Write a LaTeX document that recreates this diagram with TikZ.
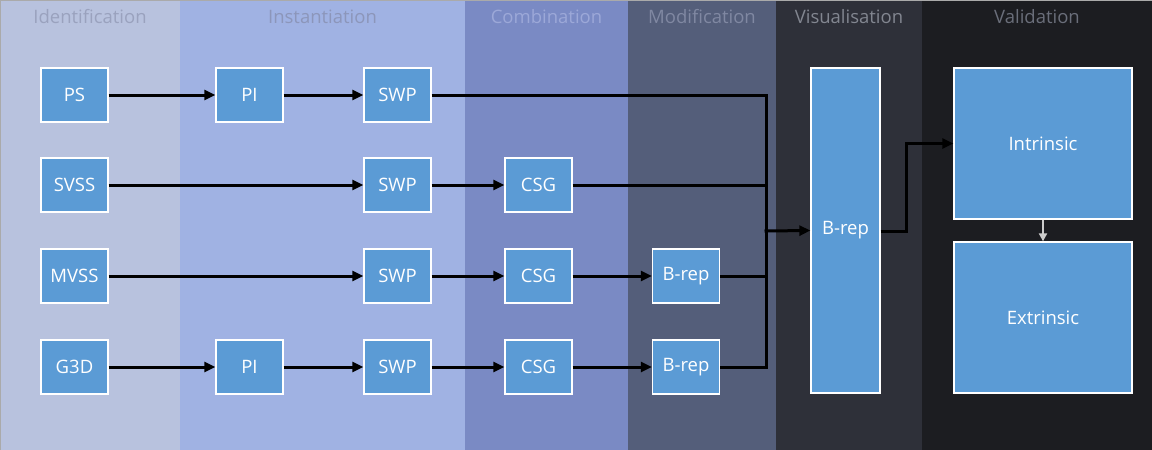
\documentclass[tikz,border=0pt]{standalone}
\usepackage{fontspec}
\setmainfont{Open Sans}
\usetikzlibrary{arrows.meta, positioning, calc}
\definecolor{idcol}{RGB}{184,194,222}
\definecolor{inscol}{RGB}{160,178,227}
\definecolor{combcol}{RGB}{122,138,196}
\definecolor{modcol}{RGB}{84,94,122}
\definecolor{viscol}{RGB}{46,48,57}
\definecolor{valcol}{RGB}{28,29,33}
\definecolor{idtxt}{RGB}{154,162,190}
\definecolor{instxt}{RGB}{140,150,186}
\definecolor{combtxt}{RGB}{156,168,216}
\definecolor{modtxt}{RGB}{128,136,162}
\definecolor{vistxt}{RGB}{130,134,144}
\definecolor{valtxt}{RGB}{106,110,122}
\definecolor{stepblue}{RGB}{91,155,213}
\definecolor{framegrey}{RGB}{170,170,170}

\tikzset{
  stage/.style={draw=white, line width=1.3pt, fill=stepblue, text=white,
    font=\fontsize{18.5}{22}\selectfont, minimum width=67pt, minimum height=54pt,
    inner sep=0pt},
  phase/.style={font=\fontsize{18.5}{22}\selectfont, anchor=center},
  flow/.style={-{Triangle[length=11pt,width=10pt]}, line width=3pt, black},
  link/.style={line width=3pt, black}
}

\begin{document}
\begin{tikzpicture}[x=1pt, y=-1pt]
  \useasboundingbox (0,0) rectangle (1152,450);
  % Phase bands
  \fill[idcol]   (0,0)   rectangle (180,450);
  \fill[inscol]  (180,0) rectangle (465,450);
  \fill[combcol] (465,0) rectangle (628,450);
  \fill[modcol]  (628,0) rectangle (776,450);
  \fill[viscol]  (776,0) rectangle (922,450);
  \fill[valcol]  (922,0) rectangle (1152,450);
  \draw[framegrey, line width=1pt] (0.5,450) -- (0.5,0.5) -- (1152,0.5);
  % Phase titles
  \node[phase, text=idtxt]   (tid)   at (90,17)     {Identification};
  \node[phase, text=instxt]  (tins)  at (322.5,17)  {Instantiation};
  \node[phase, text=combtxt] (tcomb) at (546.5,17)  {Combination};
  \node[phase, text=modtxt]  (tmod)  at (702,17)    {Modification};
  \node[phase, text=vistxt]  (tvis)  at (849,17)    {Visualisation};
  \node[phase, text=valtxt]  (tval)  at (1037,17)   {Validation};

  % Row 1
  \node[stage] (ps)    at (74.5,95)  {PS};
  \node[stage] (pia)   at (249.5,95) {PI};
  \node[stage] (swpa)  at (397.5,95) {SWP};
  % Row 2
  \node[stage] (svss)  at (74.5,185) {SVSS};
  \node[stage] (swpb)  at (397.5,185) {SWP};
  \node[stage] (csgb)  at (538.5,185) {CSG};
  % Row 3
  \node[stage] (mvss)  at (74.5,276) {MVSS};
  \node[stage] (swpc)  at (397.5,276) {SWP};
  \node[stage] (csgc)  at (538.5,276) {CSG};
  \node[stage] (brepc) at (686,276)   {B-rep};
  % Row 4
  \node[stage] (gtd)   at (74.5,367)  {G3D};
  \node[stage] (pid)   at (249.5,367) {PI};
  \node[stage] (swpd)  at (397.5,367) {SWP};
  \node[stage] (csgd)  at (538.5,367) {CSG};
  \node[stage] (brepd) at (686,367)   {B-rep};

  % Visualisation and validation
  \node[stage, minimum width=69pt, minimum height=325pt] (brep) at (845.5,230.5) {B-rep};
  \node[stage, minimum width=178pt, minimum height=151pt] (intr) at (1043,143.5) {Intrinsic};
  \node[stage, minimum width=178pt, minimum height=151pt] (extr) at (1043,317.5) {Extrinsic};

  \coordinate (bus) at (766,231);
  \coordinate (turn) at (906,231);

  % Connectors
  \draw[flow] (ps) -- (pia);
  \draw[flow] (pia) -- (swpa);
  \draw[flow] (svss) -- (swpb);
  \draw[flow] (swpb) -- (csgb);
  \draw[flow] (mvss) -- (swpc);
  \draw[flow] (swpc) -- (csgc);
  \draw[flow] (csgc) -- (brepc);
  \draw[flow] (gtd) -- (pid);
  \draw[flow] (pid) -- (swpd);
  \draw[flow] (swpd) -- (csgd);
  \draw[flow] (csgd) -- (brepd);
  \draw[link] (swpa) -| (bus);
  \draw[link] (csgb) -| (bus);
  \draw[link] (brepc) -| (bus);
  \draw[link] (brepd) -| (bus);
  \draw[flow] ([xshift=-1.5pt]bus) -- (brep.west);
  \draw[flow] (brep.east |- turn) -- (turn) |- (intr.west);
  \draw[-{Triangle[length=8pt,width=8pt]}, line width=2pt, black!20] (intr) -- (extr);
\end{tikzpicture}
\end{document}
